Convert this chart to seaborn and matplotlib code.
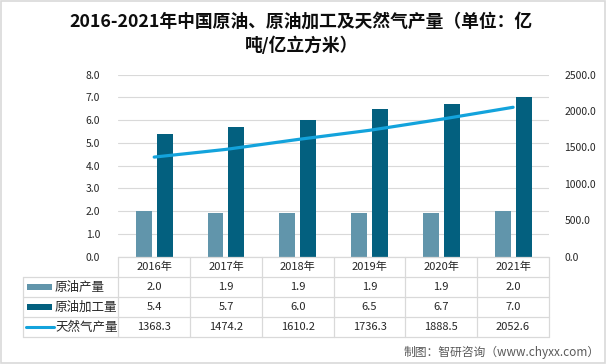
import numpy as np
import pandas as pd
import matplotlib
matplotlib.use("Agg")
import matplotlib.pyplot as plt
from matplotlib.patches import Rectangle
from matplotlib.lines import Line2D
import seaborn as sns

years = ["2016年", "2017年", "2018年", "2019年", "2020年", "2021年"]
crude = [2.0, 1.9, 1.9, 1.9, 1.9, 2.0]
refined = [5.4, 5.7, 6.0, 6.5, 6.7, 7.0]
gas = [1368.3, 1474.2, 1610.2, 1736.3, 1888.5, 2052.6]
series_names = ["原油产量", "原油加工量", "天然气产量"]
title = "2016-2021年中国原油、原油加工及天然气产量（单位：亿\n吨/亿立方米）"
source = "制图：智研咨询（www.chyxx.com）"

c_crude = "#6195ab"
c_ref = "#03607f"
c_gas = "#13a3dc"
grid_c = "#d9d9d9"
txt_c = "#262626"

sns.set_style("white")
plt.rcParams["font.family"] = ["Noto Sans CJK SC", "DejaVu Sans"]

W, H = 606, 364
fig = plt.figure(figsize=(W / 100, H / 100), dpi=100)

def fx(x):
    return x / W

def fy(y):
    return 1 - y / H

ax_l, ax_r, ax_t, ax_b = 118.3, 549.0, 74.7, 256.7
ax = fig.add_axes([fx(ax_l), fy(ax_b), fx(ax_r - ax_l), (ax_b - ax_t) / H])

df = pd.DataFrame({
    "year": years * 2,
    "value": crude + refined,
    "series": [series_names[0]] * 6 + [series_names[1]] * 6,
})
sns.barplot(data=df, x="year", y="value", hue="series", order=years,
            hue_order=series_names[:2], palette=[c_crude, c_ref],
            width=0.583, gap=0.238, ax=ax, legend=False, saturation=1,
            linewidth=0, edgecolor="none")
ax.set_xlim(-0.5, 5.5)
ax.set_ylim(0, 8)
ax.set_yticks(np.arange(0, 8.01, 1))
ax.set_yticklabels([f"{v:.1f}" for v in np.arange(0, 8.01, 1)], fontsize=7.5, color=txt_c)
ax.yaxis.grid(True, color=grid_c, linewidth=0.8)
ax.set_axisbelow(True)
ax.set_xticks([])
ax.set_xlabel("")
ax.set_ylabel("")
for s in ax.spines.values():
    s.set_visible(False)
ax.tick_params(axis="y", length=0, pad=13)

ax2 = ax.twinx()
sns.lineplot(x=np.arange(len(years)), y=gas, ax=ax2, color=c_gas, linewidth=2.3,
             legend=False)
ax2.set_ylim(0, 2500)
ax2.set_yticks(np.arange(0, 2501, 500))
ax2.set_yticklabels([f"{v:.1f}" for v in np.arange(0, 2501, 500)], fontsize=7.5, color=txt_c)
ax2.tick_params(axis="y", length=0, pad=11)
ax2.set_ylabel("")
for s in ax2.spines.values():
    s.set_visible(False)
ax2.set_xlim(-0.5, 5.5)

# table
tc = "#d9d9d9"
t_left = 22.7
rows = [256.7, 277.3, 297.3, 317.3, 337.3]
colw = (ax_r - ax_l) / 6
def hline(x0, x1, y):
    fig.add_artist(Line2D([fx(x0), fx(x1)], [fy(y), fy(y)], color=tc, lw=0.9))
def vline(x, y0, y1):
    fig.add_artist(Line2D([fx(x), fx(x)], [fy(y0), fy(y1)], color=tc, lw=0.9))

hline(ax_l, ax_r, rows[0])
for y in rows[1:]:
    hline(t_left, ax_r, y)
vline(t_left, rows[1], rows[4])
for i in range(7):
    vline(ax_l + i * colw, rows[0], rows[4])

for i, yr in enumerate(years):
    cx = ax_l + (i + 0.5) * colw
    fig.text(fx(cx), fy((rows[0] + rows[1]) / 2), yr, ha="center", va="center",
             fontsize=8, color=txt_c)
    for r, vals in enumerate([crude, refined, gas]):
        fig.text(fx(cx), fy((rows[r + 1] + rows[r + 2]) / 2), f"{vals[i]:.1f}",
                 ha="center", va="center", fontsize=8, color=txt_c)

for r, (name, col) in enumerate(zip(series_names, [c_crude, c_ref, c_gas])):
    yc = (rows[r + 1] + rows[r + 2]) / 2
    if r < 2:
        fig.add_artist(Rectangle((fx(27), fy(yc + 3)), fx(25), 6 / H,
                                 facecolor=col, edgecolor="none"))
    else:
        fig.add_artist(Line2D([fx(25.5), fx(54)], [fy(yc), fy(yc)], color=col, lw=2.2))
    fig.text(fx(55), fy(yc), name, ha="left", va="center", fontsize=9, color=txt_c)

fig.text(0.497, fy(34), title, ha="center", va="center", fontsize=12.8,
         fontweight="bold", color="#0d0d0d", linespacing=1.45)
fig.text(fx(600), fy(352), source, ha="right", va="center", fontsize=8.5,
         color="#595959")

fig.add_artist(Rectangle((0.001, 0.002), 0.997, 0.995, fill=False,
                         edgecolor="#d9d9d9", lw=1.2))

fig.savefig("out.png", dpi=100)
